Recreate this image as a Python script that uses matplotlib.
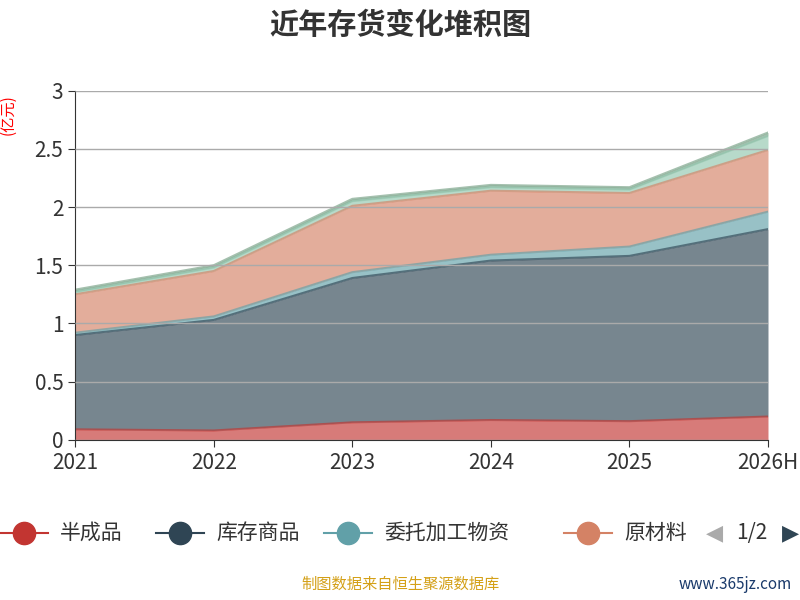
import numpy as np
import matplotlib.pyplot as plt
from matplotlib.lines import Line2D

plt.rcParams['font.family'] = ['Noto Sans CJK SC', 'DejaVu Sans']

years = ["2021", "2022", "2023", "2024", "2025", "2026H"]
names = ["半成品", "库存商品", "委托加工物资", "原材料", "在产品", "其他"]
colors = ["#c23531", "#2f4554", "#61a0a8", "#d48265", "#91c7ae", "#749f83"]
banchengpin = [0.09, 0.08, 0.15, 0.17, 0.16, 0.20]
kucun = [0.81, 0.95, 1.24, 1.37, 1.42, 1.61]
weituo = [0.02, 0.03, 0.05, 0.05, 0.08, 0.15]
yuancailiao = [0.33, 0.39, 0.57, 0.55, 0.46, 0.53]
s5 = [0.02, 0.03, 0.04, 0.03, 0.03, 0.12]
s6 = [0.02, 0.02, 0.02, 0.02, 0.02, 0.03]
series = [banchengpin, kucun, weituo, yuancailiao, s5, s6]

fig = plt.figure(figsize=(8, 6), dpi=100)
ax = fig.add_axes([0.094, 0.267, 0.866, 0.582])
x = np.arange(len(years))
base = np.zeros(len(years))
for vals, c in zip(series, colors):
    top = base + np.array(vals)
    ax.fill_between(x, base, top, color=c, alpha=0.65, lw=0)
    ax.plot(x, top, color=c, alpha=0.65, lw=1.5)
    base = top

ax.set_xlim(0, len(years) - 1)
ax.set_ylim(0, 3)
ax.set_xticks(x, years)
ax.set_yticks([0, 0.5, 1, 1.5, 2, 2.5, 3], ["0", "0.5", "1", "1.5", "2", "2.5", "3"])
ax.tick_params(labelsize=15, colors="#333333", length=5)
ax.grid(axis="y", color="#aaaaaa", lw=1)
ax.set_axisbelow(False)
for s in ["top", "right"]:
    ax.spines[s].set_visible(False)
ax.spines["left"].set_color("#333333")
ax.spines["bottom"].set_color("#333333")
ax.set_ylabel("(亿元)", color="red", fontsize=11, labelpad=0)
ax.yaxis.set_label_coords(-0.085, 0.93)

fig.text(0.5, 0.958, "近年存货变化堆积图", ha="center", va="center",
         fontsize=21, fontweight="bold", color="#333333")

lx = [0.0, 0.195, 0.405, 0.705]
for i in range(4):
    fig.add_artist(Line2D([lx[i], lx[i] + 0.06], [0.112, 0.112], color=colors[i], lw=1.5))
    fig.add_artist(Line2D([lx[i] + 0.03], [0.112], marker="o", ms=16, color=colors[i]))
    fig.text(lx[i] + 0.075, 0.112, names[i], fontsize=15, va="center", color="#333333")
fig.patches.append(plt.Rectangle((0.852, 0.08), 0.008, 0.06, color="white", transform=fig.transFigure))
fig.text(0.893, 0.112, "◀", fontsize=16, va="center", ha="center", color="#aaaaaa", family="DejaVu Sans")
fig.text(0.94, 0.112, "1/2", fontsize=15, va="center", ha="center", color="#333333")
fig.text(0.988, 0.112, "▶", fontsize=16, va="center", ha="center", color="#2f4554", family="DejaVu Sans")

fig.text(0.5, 0.018, "制图数据来自恒生聚源数据库", ha="center", fontsize=11, color="#d4a017")
fig.text(0.99, 0.018, "www.365jz.com", ha="right", fontsize=11, color="#1a3a6b")

fig.savefig("out.png")
